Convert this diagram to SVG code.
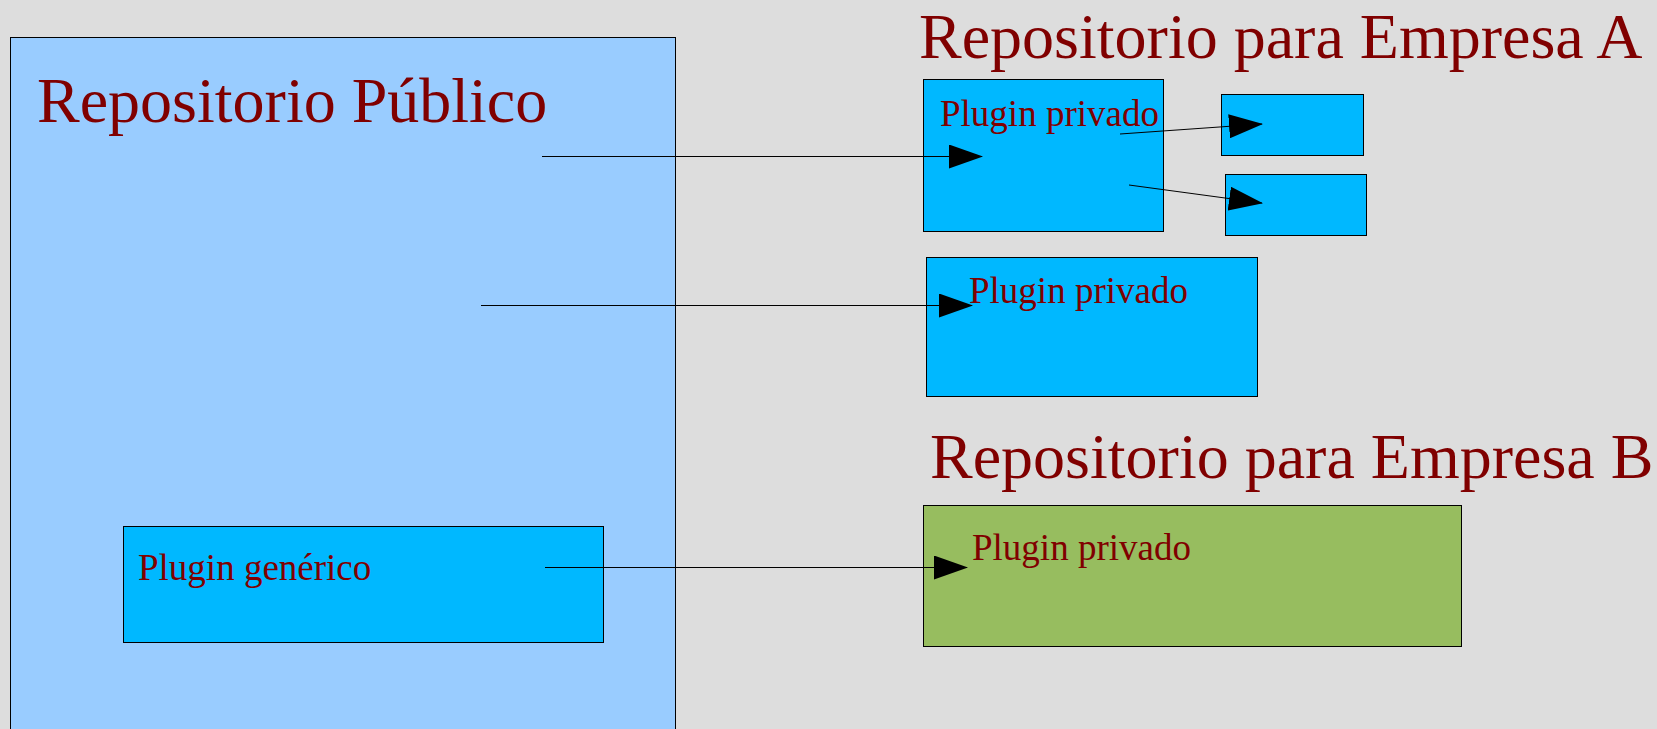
<svg xmlns="http://www.w3.org/2000/svg" width="1657" height="729" viewBox="0 0 1657 729">
<style>
.bg{fill:#dddddd}
.box{stroke:#000;stroke-width:1}
.pub{fill:#99ccff}
.cy{fill:#00b8ff}
.gr{fill:#97bd5f}
.t{font-family:"Liberation Serif","Times New Roman",serif;fill:#800000}
.big{font-size:64px}
.sm{font-size:37px}
.conn line{stroke:#000;stroke-width:1;marker-end:url(#ah)}
</style>
<defs>
<marker id="ah" markerUnits="userSpaceOnUse" markerWidth="34" markerHeight="24" refX="33" refY="12" orient="auto">
<path d="M0,0 L34,12 L0,24 Z" fill="#000"/>
</marker>
</defs>
<rect class="bg" x="0" y="0" width="1657" height="729"/>
<g id="repo-publico">
<rect class="box pub" x="10.5" y="37.5" width="665" height="700"/>
<text class="t big" x="37" y="122">Repositorio Público</text>
</g>
<g id="plugin-generico">
<rect class="box cy" x="123.5" y="526.5" width="480" height="116"/>
<text class="t sm" x="138" y="580">Plugin genérico</text>
</g>
<g id="titulo-a">
<text class="t big" x="919" y="58">Repositorio para Empresa A</text>
</g>
<g id="plugin-a1">
<rect class="box cy" x="923.5" y="79.5" width="240" height="152"/>
<text class="t sm" x="940" y="126">Plugin privado</text>
</g>
<g id="box-a2">
<rect class="box cy" x="1221.5" y="94.5" width="142" height="61"/>
</g>
<g id="box-a3">
<rect class="box cy" x="1225.5" y="174.5" width="141" height="61"/>
</g>
<g id="plugin-a4">
<rect class="box cy" x="926.5" y="257.5" width="331" height="139"/>
<text class="t sm" x="969" y="303">Plugin privado</text>
</g>
<g id="titulo-b">
<text class="t big" x="930" y="478">Repositorio para Empresa B</text>
</g>
<g id="plugin-b">
<rect class="box gr" x="923.5" y="505.5" width="538" height="141"/>
<text class="t sm" x="972" y="560">Plugin privado</text>
</g>
<g id="connectors" class="conn">
<line x1="542" y1="156.5" x2="982" y2="156.5"/>
<line x1="1120" y1="134" x2="1262" y2="124"/>
<line x1="1129" y1="185" x2="1262" y2="203"/>
<line x1="481" y1="305.5" x2="972" y2="305.5"/>
<line x1="545" y1="567.5" x2="967" y2="567.5"/>
</g>
</svg>
